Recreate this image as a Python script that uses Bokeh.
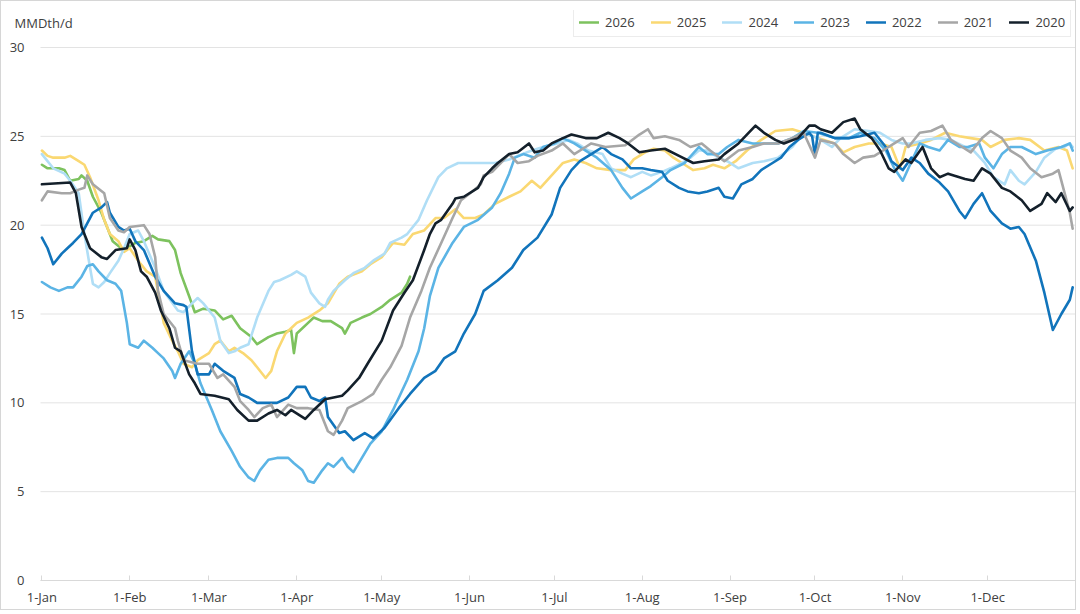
from bokeh.plotting import figure
from bokeh.models import Range1d, FixedTicker, Legend, LegendItem, Label
from bokeh.embed import file_html
from bokeh.resources import INLINE

# ---------------- data ----------------
month_days = [0, 31, 59, 90, 120, 151, 181, 212, 243, 273, 304, 334]
month_labels = ["1-Jan", "1-Feb", "1-Mar", "1-Apr", "1-May", "1-Jun",
                "1-Jul", "1-Aug", "1-Sep", "1-Oct", "1-Nov", "1-Dec"]
y_ticks = [0, 5, 10, 15, 20, 25, 30]
y_label = "MMDth/d"
day_first, day_last = -0.5, 365

years = ["2026", "2025", "2024", "2023", "2022", "2021", "2020"]

days_2026 = [0, 2, 6, 8, 10, 13, 14, 16, 18, 21, 23, 25, 28, 30, 33, 36, 39, 41, 45, 47,
             49, 52, 54, 57, 61, 64, 67, 70, 74, 76, 80, 83, 86, 88, 89, 90, 94, 96, 99, 102,
             106, 107, 109, 113, 116, 120, 123, 127, 129, 130]
vals_2026 = [23.4, 23.2, 23.2, 23.1, 22.5, 22.6, 22.8, 22.5, 21.6, 20.7, 19.9, 19.1, 18.7, 18.7, 19.0, 19.1, 19.4, 19.2, 19.1, 18.6,
             17.3, 16.0, 15.1, 15.3, 15.2, 14.7, 14.9, 14.2, 13.7, 13.3, 13.7, 13.9, 14.0, 14.1, 12.8, 13.9, 14.5, 14.8, 14.6, 14.6,
             14.2, 13.9, 14.5, 14.8, 15.0, 15.4, 15.8, 16.2, 16.7, 17.1]

days_2025 = [0, 2, 4, 8, 10, 13, 15, 17, 20, 22, 24, 27, 29, 31, 34, 37, 40, 42, 43, 46,
             48, 50, 53, 55, 59, 61, 63, 66, 68, 71, 74, 76, 79, 81, 83, 86, 88, 90, 94, 98,
             101, 105, 108, 113, 116, 120, 122, 124, 128, 131, 135, 139, 142, 146, 149, 153, 156, 160, 165, 169,
             173, 176, 180, 184, 188, 192, 196, 201, 206, 209, 213, 216, 220, 223, 227, 230, 234, 237, 241, 245,
             249, 254, 259, 265, 269, 274, 280, 283, 287, 292, 296, 300, 303, 305, 310, 314, 319, 324, 328, 332,
             335, 340, 345, 349, 354, 359, 362, 364]
vals_2025 = [24.2, 23.9, 23.8, 23.8, 23.9, 23.6, 23.4, 22.7, 21.4, 20.3, 19.5, 19.1, 18.5, 18.7, 18.0, 17.4, 17.1, 15.4, 14.5, 13.5,
             12.9, 12.2, 12.0, 12.4, 12.8, 13.3, 13.5, 12.9, 13.1, 12.8, 12.4, 12.0, 11.4, 11.8, 12.9, 13.9, 14.2, 14.5, 14.8, 15.2,
             15.6, 16.7, 17.1, 17.4, 17.8, 18.2, 18.6, 19.0, 18.9, 19.5, 19.7, 20.4, 20.4, 20.9, 20.4, 20.4, 20.6, 21.2, 21.6, 21.9,
             22.5, 22.1, 22.8, 23.5, 23.7, 23.5, 23.2, 23.1, 23.1, 23.7, 24.1, 24.3, 24.2, 23.8, 23.4, 23.1, 23.2, 23.4, 23.2, 23.6,
             24.2, 24.8, 25.3, 25.4, 25.2, 24.9, 24.6, 24.1, 24.4, 24.6, 24.6, 24.4, 23.2, 24.4, 24.6, 24.8, 25.2, 25.0, 24.9, 24.8,
             24.4, 24.8, 24.9, 24.8, 24.2, 24.4, 24.2, 23.2]

days_2024 = [0, 4, 8, 10, 13, 15, 17, 18, 20, 22, 24, 27, 29, 31, 34, 36, 40, 43, 48, 50,
             53, 55, 57, 61, 63, 66, 68, 70, 73, 76, 80, 82, 84, 88, 90, 93, 95, 98, 100, 101,
             103, 107, 110, 114, 117, 121, 123, 127, 129, 133, 136, 140, 143, 147, 154, 160, 165, 168, 173, 177,
             182, 186, 189, 193, 198, 201, 205, 208, 212, 215, 219, 222, 226, 229, 232, 235, 239, 242, 246, 251,
             255, 260, 265, 269, 274, 279, 282, 287, 292, 296, 300, 304, 307, 312, 317, 321, 326, 329, 333, 336,
             340, 342, 345, 347, 351, 354, 358, 361, 363, 364]
vals_2024 = [24.0, 23.2, 22.9, 22.5, 21.8, 19.5, 17.6, 16.7, 16.5, 16.8, 17.3, 18.0, 18.7, 19.5, 19.7, 19.1, 17.6, 16.3, 15.2, 15.1,
             15.6, 15.9, 15.6, 14.8, 13.5, 12.8, 12.9, 13.1, 13.3, 14.8, 16.3, 16.8, 16.9, 17.2, 17.4, 17.1, 16.2, 15.6, 15.4, 15.8,
             16.3, 16.9, 17.3, 17.6, 18.0, 18.4, 19.0, 19.3, 19.5, 20.3, 21.4, 22.7, 23.2, 23.5, 23.5, 23.5, 23.7, 23.9, 24.2, 24.4,
             24.6, 24.8, 24.6, 24.2, 24.0, 23.2, 22.9, 22.7, 23.0, 22.8, 23.0, 23.2, 23.5, 23.8, 24.2, 24.2, 23.8, 23.6, 23.2, 23.5,
             23.6, 23.8, 24.4, 25.2, 24.9, 24.4, 24.9, 25.4, 25.3, 25.2, 24.8, 24.6, 24.6, 24.8, 24.9, 24.8, 24.4, 24.2, 23.5, 22.7,
             22.3, 23.1, 22.5, 22.3, 23.0, 23.8, 24.3, 24.4, 24.6, 24.4]

days_2023 = [0, 3, 6, 9, 11, 14, 16, 18, 20, 23, 26, 28, 30, 31, 34, 36, 39, 41, 43, 46,
             47, 49, 52, 54, 56, 60, 63, 67, 70, 73, 75, 77, 80, 83, 87, 89, 92, 94, 96, 99,
             101, 103, 106, 108, 110, 113, 116, 120, 124, 129, 133, 135, 137, 140, 145, 149, 154, 159, 162, 165,
             167, 170, 174, 177, 181, 184, 188, 192, 196, 201, 205, 208, 212, 215, 219, 222, 227, 232, 235, 239,
             242, 246, 251, 255, 260, 265, 269, 274, 280, 285, 289, 294, 298, 301, 304, 306, 310, 313, 317, 320,
             324, 327, 331, 333, 336, 339, 342, 346, 351, 355, 360, 363, 364]
vals_2023 = [16.8, 16.5, 16.3, 16.5, 16.5, 17.1, 17.7, 17.8, 17.4, 16.9, 16.7, 16.3, 14.5, 13.3, 13.1, 13.5, 13.1, 12.8, 12.5, 11.8,
             11.4, 12.2, 12.9, 12.2, 11.1, 9.6, 8.4, 7.3, 6.4, 5.8, 5.6, 6.2, 6.8, 6.9, 6.9, 6.6, 6.2, 5.6, 5.5, 6.2,
             6.6, 6.4, 6.9, 6.4, 6.1, 6.9, 7.7, 8.4, 9.6, 11.3, 12.9, 14.2, 16.0, 17.6, 19.0, 19.9, 20.3, 21.0, 21.8, 22.9,
             23.8, 24.0, 23.8, 24.4, 24.6, 24.9, 24.6, 24.2, 23.8, 23.1, 22.1, 21.5, 21.9, 22.2, 22.7, 23.1, 23.5, 24.4, 24.0, 24.0,
             24.4, 24.8, 24.6, 24.6, 24.6, 24.9, 25.3, 25.2, 24.9, 24.9, 25.2, 24.9, 24.2, 23.2, 22.5, 23.2, 24.6, 24.4, 24.2, 24.8,
             24.4, 24.4, 24.6, 23.8, 23.2, 24.0, 24.4, 24.4, 24.0, 24.2, 24.4, 24.6, 24.2]

days_2022 = [0, 2, 4, 7, 9, 11, 14, 16, 18, 21, 23, 24, 27, 29, 31, 33, 36, 40, 43, 47,
             50, 51, 53, 55, 59, 61, 64, 68, 70, 73, 76, 80, 83, 87, 90, 93, 95, 98, 100, 101,
             105, 107, 110, 114, 117, 121, 126, 130, 135, 139, 142, 146, 149, 153, 156, 161, 166, 170, 175, 180,
             183, 187, 190, 194, 198, 201, 205, 208, 212, 215, 219, 221, 225, 228, 232, 235, 239, 241, 244, 247,
             251, 254, 258, 261, 264, 267, 271, 272, 273, 274, 275, 280, 285, 289, 294, 298, 300, 304, 307, 310,
             313, 317, 320, 324, 326, 329, 332, 335, 339, 342, 345, 347, 351, 354, 357, 360, 363, 364]
vals_2022 = [19.3, 18.7, 17.8, 18.4, 18.7, 19.0, 19.5, 20.1, 20.7, 21.0, 21.3, 20.7, 19.9, 19.7, 19.8, 19.1, 18.6, 17.1, 16.3, 15.6,
             15.5, 15.4, 12.9, 11.6, 11.6, 12.2, 11.8, 11.4, 10.5, 10.3, 10.0, 10.0, 10.0, 10.3, 10.9, 10.9, 10.3, 10.1, 10.3, 9.2,
             8.3, 8.4, 7.9, 8.3, 8.0, 8.6, 9.7, 10.5, 11.4, 11.8, 12.5, 12.9, 13.9, 15.0, 16.3, 16.9, 17.6, 18.6, 19.3, 20.6,
             22.1, 23.1, 23.6, 24.0, 24.4, 24.0, 23.7, 23.2, 23.2, 23.1, 23.0, 22.5, 22.1, 21.9, 21.8, 21.9, 22.1, 21.6, 21.5, 22.3,
             22.6, 23.1, 23.5, 23.8, 24.4, 24.8, 25.2, 25.0, 23.9, 25.2, 25.2, 24.9, 24.9, 25.0, 25.2, 24.4, 23.6, 23.1, 23.8, 23.5,
             22.9, 22.4, 21.9, 20.8, 20.4, 21.2, 21.8, 20.8, 20.1, 19.8, 19.9, 19.5, 18.0, 16.2, 14.1, 15.0, 15.8, 16.5]

days_2021 = [0, 2, 7, 10, 13, 15, 16, 18, 22, 24, 27, 29, 31, 36, 38, 40, 41, 43, 47, 48,
             50, 55, 59, 62, 64, 68, 70, 73, 75, 78, 81, 83, 87, 90, 94, 98, 101, 103, 106, 108,
             113, 115, 117, 120, 123, 127, 130, 134, 137, 141, 145, 148, 152, 155, 156, 159, 162, 165, 168, 172,
             175, 180, 184, 188, 192, 194, 199, 206, 211, 214, 216, 220, 225, 229, 233, 236, 241, 246, 251, 255,
             260, 265, 269, 273, 275, 280, 283, 287, 290, 294, 298, 301, 304, 306, 310, 314, 318, 321, 325, 328,
             332, 335, 339, 342, 346, 349, 353, 357, 359, 361, 363, 364]
vals_2021 = [21.4, 21.9, 21.8, 21.8, 22.0, 22.1, 22.8, 22.3, 21.8, 20.4, 19.7, 19.6, 19.9, 20.0, 19.5, 18.2, 16.3, 15.0, 14.2, 13.5,
             12.4, 12.2, 12.2, 11.4, 11.6, 10.9, 10.1, 9.6, 9.2, 9.7, 9.9, 9.2, 9.9, 9.7, 9.7, 9.6, 8.4, 8.2, 9.0, 9.7,
             10.1, 10.3, 10.5, 11.3, 12.0, 13.2, 14.8, 16.3, 17.6, 19.0, 20.4, 21.4, 21.9, 22.3, 22.8, 23.0, 23.5, 24.0, 23.5, 23.6,
             23.9, 24.2, 24.6, 24.0, 24.4, 24.6, 24.4, 24.5, 25.1, 25.4, 24.9, 25.0, 24.8, 24.4, 24.6, 24.2, 23.6, 24.2, 24.4, 24.6,
             24.6, 24.9, 25.2, 23.8, 24.8, 24.6, 24.0, 23.5, 23.8, 23.9, 24.3, 24.6, 24.9, 24.4, 25.2, 25.3, 25.6, 24.8, 24.4, 24.1,
             24.9, 25.3, 24.9, 24.2, 23.8, 23.2, 22.7, 22.9, 23.1, 21.9, 20.7, 19.8]

days_2020 = [0, 10, 12, 14, 17, 21, 23, 26, 30, 31, 33, 35, 37, 40, 42, 45, 47, 49, 52, 54,
             56, 61, 66, 69, 73, 76, 80, 83, 86, 88, 93, 96, 100, 106, 108, 112, 115, 120, 124, 128,
             131, 135, 137, 139, 141, 145, 146, 149, 154, 156, 159, 161, 165, 168, 172, 174, 177, 180, 184, 187,
             192, 196, 200, 204, 207, 211, 215, 220, 225, 230, 234, 239, 241, 246, 252, 255, 259, 262, 267, 271,
             273, 275, 279, 283, 287, 289, 293, 296, 299, 301, 305, 307, 311, 314, 317, 320, 326, 329, 332, 335,
             339, 342, 346, 349, 353, 355, 358, 360, 363, 364]
vals_2020 = [22.3, 22.4, 21.8, 19.9, 18.7, 18.2, 18.1, 18.6, 18.7, 19.2, 18.6, 17.4, 17.1, 16.2, 15.2, 14.2, 13.1, 12.9, 11.6, 11.1,
             10.5, 10.4, 10.2, 9.6, 9.0, 9.0, 9.4, 9.6, 9.3, 9.6, 9.1, 9.6, 10.2, 10.4, 10.7, 11.4, 12.2, 13.5, 15.2, 16.2,
             16.9, 18.6, 19.5, 20.1, 20.3, 21.2, 21.5, 21.6, 22.1, 22.7, 23.2, 23.5, 24.0, 24.1, 24.6, 24.1, 24.2, 24.6, 24.9, 25.1,
             24.9, 24.9, 25.2, 24.9, 24.6, 24.1, 24.2, 24.3, 23.9, 23.5, 23.6, 23.7, 24.0, 24.6, 25.6, 25.2, 24.8, 24.6, 24.9, 25.6,
             25.6, 25.4, 25.2, 25.8, 26.0, 25.4, 24.9, 24.2, 23.2, 23.0, 23.7, 23.5, 24.4, 23.2, 22.7, 22.9, 22.6, 22.5, 23.2, 22.9,
             22.1, 21.9, 21.4, 20.8, 21.2, 21.8, 21.3, 21.8, 20.8, 21.0]

series = {
    "2026": (days_2026, vals_2026),
    "2025": (days_2025, vals_2025),
    "2024": (days_2024, vals_2024),
    "2023": (days_2023, vals_2023),
    "2022": (days_2022, vals_2022),
    "2021": (days_2021, vals_2021),
    "2020": (days_2020, vals_2020),
}
colors = {
    "2026": "#7DC25E",
    "2025": "#FAD872",
    "2024": "#B0DEF6",
    "2023": "#5BB4E5",
    "2022": "#1174BB",
    "2021": "#A6A6A6",
    "2020": "#14202B",
}

FONT = "Open Sans"
TEXT = "#404040"

# pixel geometry of the frame (canvas pixels)
FRAME_L, FRAME_R, FRAME_T, FRAME_B = 9, 1074, 9, 579
PLOT_L = 39                      # where day_first sits
Y30_PX = 46                      # where 30 sits
px_per_day = (FRAME_R - PLOT_L) / (day_last - day_first)
px_per_unit = (FRAME_B - Y30_PX) / 30.0
x_start = day_first - (PLOT_L - FRAME_L) / px_per_day
y_end = (FRAME_B - FRAME_T) / px_per_unit

p = figure(width=1076, height=610,
           x_range=Range1d(x_start, day_last), y_range=Range1d(0, y_end),
           output_backend="svg", toolbar_location=None,
           min_border_left=FRAME_L, min_border_right=1076 - FRAME_R,
           min_border_top=FRAME_T, min_border_bottom=610 - FRAME_B,
           background_fill_color="white", border_fill_color="white",
           styles={"border": "1px solid #d6d6d6"})
p.outline_line_color = None
p.title.text = ""
p.title.standoff = 0

# axes
p.xaxis.ticker = FixedTicker(ticks=month_days)
p.xaxis.major_label_overrides = {d: lab for d, lab in zip(month_days, month_labels)}
p.xaxis.bounds = (day_first, day_last)
p.xaxis.minor_tick_line_color = None
p.xaxis.major_tick_in = 5
p.xaxis.major_tick_out = 0
p.xaxis.major_tick_line_color = "#d9d9d9"
p.xaxis.axis_line_color = "#d9d9d9"
p.xaxis.major_label_standoff = 7
p.xaxis.major_label_text_font = FONT
p.xaxis.major_label_text_font_size = "13px"
p.xaxis.major_label_text_color = TEXT

p.yaxis.ticker = FixedTicker(ticks=y_ticks)
p.yaxis.axis_line_color = None
p.yaxis.major_tick_line_color = None
p.yaxis.minor_tick_line_color = None
p.yaxis.major_label_standoff = -(PLOT_L - 10 - FRAME_L)
p.yaxis.major_label_text_font = FONT
p.yaxis.major_label_text_font_size = "13px"
p.yaxis.major_label_text_color = TEXT

p.xgrid.grid_line_color = None
p.ygrid.grid_line_color = None

# horizontal gridlines only across the plotting area
p.segment(x0=[day_first] * len(y_ticks), y0=y_ticks,
          x1=[day_last] * len(y_ticks), y1=y_ticks,
          line_color="#e3e3e3", line_width=1)

renderers = {}
for yr in years:
    d, v = series[yr]
    renderers[yr] = p.line(d, v, line_color=colors[yr], line_width=2.6,
                           line_join="round", line_cap="round")

# unit label at top left
title_lbl = Label(x=day_first - 26 / px_per_day, y=30 + (46 - 21) / px_per_unit,
                  text=y_label, text_align="left", text_baseline="middle",
                  text_font=FONT, text_font_size="13px", text_color=TEXT)
p.add_layout(title_lbl)

legend = Legend(items=[LegendItem(label=yr, renderers=[renderers[yr]]) for yr in years],
                orientation="horizontal",
                location=(572 - FRAME_L, FRAME_B - 36))
legend.label_text_font = FONT
legend.label_text_font_size = "13px"
legend.label_text_color = TEXT
legend.glyph_width = 20
legend.glyph_height = 14
legend.label_height = 14
legend.label_standoff = 6
legend.spacing = 16
legend.padding = 5
legend.margin = 0
legend.border_line_color = "#d9d9d9"
legend.border_line_width = 1
legend.background_fill_color = "white"
legend.background_fill_alpha = 1
p.add_layout(legend, "center")

open("out.html", "w").write(file_html(p, INLINE))
